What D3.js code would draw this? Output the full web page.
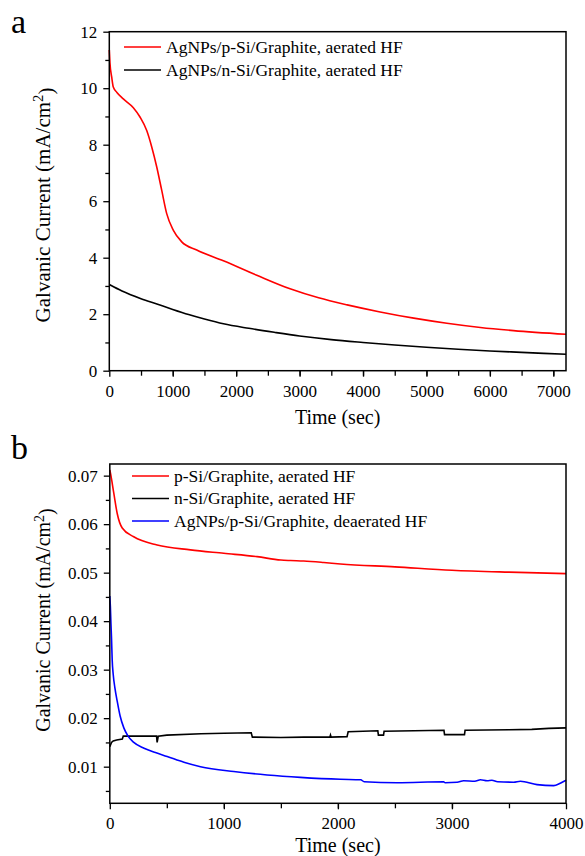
<!DOCTYPE html>
<html>
<head>
<meta charset="utf-8">
<script src="https://cdn.jsdelivr.net/npm/d3@7"></script>
<style>
	body { margin: 0; background: #fff; }
	svg text { font-family: "Liberation Serif", "Times New Roman", serif; fill: #000; }
</style>
</head>
<body>
<div id="chart"></div>
<script>
// panel a : AgNPs/p-Si/Graphite, aerated HF
var timeA_pSi = [0, 10, 38, 63, 120, 221, 379, 484, 590, 669, 748, 826, 905, 1010, 1142, 1379, 1798, 2325, 2850, 3300, 3750, 4270, 4800, 5322, 5850, 6372, 7200];
var curA_pSi = [11.35, 10.9, 10.39, 10.04, 9.85, 9.62, 9.31, 8.98, 8.5, 7.92, 7.21, 6.39, 5.56, 4.97, 4.56, 4.27, 3.89, 3.38, 2.9, 2.58, 2.33, 2.08, 1.86, 1.68, 1.53, 1.42, 1.29];
// panel a : AgNPs/n-Si/Graphite, aerated HF
var timeA_nSi = [0, 200, 500, 750, 1000, 1250, 1500, 1800, 2200, 2600, 3000, 3500, 4000, 4500, 5000, 5500, 6000, 6500, 7200];
var curA_nSi = [3.05, 2.82, 2.55, 2.36, 2.17, 1.99, 1.83, 1.66, 1.5, 1.36, 1.23, 1.1, 1.0, 0.91, 0.83, 0.76, 0.7, 0.65, 0.58];

// panel b : p-Si/Graphite, aerated HF
var timeB_pSi = [0, 6, 35, 65, 109, 210, 415, 707, 999, 1292, 1500, 1584, 1700, 1876, 2022, 2500, 3000, 3500, 4000];
var curB_pSi = [0.0712, 0.0705, 0.0664, 0.0622, 0.0592, 0.0574, 0.0557, 0.0547, 0.054, 0.0533, 0.0526, 0.0525, 0.0524, 0.0521, 0.0518, 0.0512, 0.0505, 0.0501, 0.0498];
// panel b : n-Si/Graphite, aerated HF
var timeB_nSi = [0, 15, 30, 60, 110, 118, 300, 410, 415, 425, 500, 800, 1000, 1240, 1250, 1500, 1700, 1930, 1935, 1940, 2080, 2090, 2350, 2355, 2400, 2405, 2930, 2935, 3110, 3115, 3500, 3700, 3850, 4000];
var curB_nSi = [0.0141, 0.015, 0.0153, 0.0155, 0.0157, 0.0163, 0.0163, 0.0163, 0.015, 0.0163, 0.0165, 0.0168, 0.0169, 0.017, 0.0161, 0.016, 0.0161, 0.0161, 0.0165, 0.0161, 0.0162, 0.0172, 0.0174, 0.0165, 0.0165, 0.0173, 0.0175, 0.0166, 0.0166, 0.0175, 0.0176, 0.0177, 0.0179, 0.018];
// panel b : AgNPs/p-Si/Graphite, deaerated HF
var timeB_Ag = [0, 5, 10, 15, 21, 30, 45, 65, 90, 123, 160, 210, 300, 400, 503, 650, 795, 1087, 1379, 1671, 2022, 2200, 2230, 2519, 2927, 2940, 3045, 3103, 3200, 3250, 3308, 3350, 3400, 3541, 3600, 3746, 3892, 3950, 4000];
var curB_Ag = [0.0452, 0.043, 0.0395, 0.0365, 0.032, 0.029, 0.0262, 0.0235, 0.0205, 0.018, 0.0163, 0.015, 0.0138, 0.0129, 0.0121, 0.0109, 0.01, 0.009, 0.0083, 0.0078, 0.0074, 0.0073, 0.0069, 0.0067, 0.0069, 0.0067, 0.0068, 0.0071, 0.007, 0.0073, 0.0071, 0.0072, 0.0069, 0.0068, 0.007, 0.0063, 0.0061, 0.0066, 0.0072];

// ticks
var xTicksA = [0, 1000, 2000, 3000, 4000, 5000, 6000, 7000];
var yTicksA = [0, 2, 4, 6, 8, 10, 12];
var xTicksB = [0, 1000, 2000, 3000, 4000];
var yTicksB = [0.01, 0.02, 0.03, 0.04, 0.05, 0.06, 0.07];

var legendA = ["AgNPs/p-Si/Graphite, aerated HF", "AgNPs/n-Si/Graphite, aerated HF"];
var legendB = ["p-Si/Graphite, aerated HF", "n-Si/Graphite, aerated HF", "AgNPs/p-Si/Graphite, deaerated HF"];

var width = 585;
var height = 856;

var svg = d3.select("#chart").append("svg")
	.attr("width", width)
	.attr("height", height);

function zip(t, v) {
	return t.map(function(d, i) { return [d, v[i]]; });
}

//draw one panel
function drawPanel(p) {
	var x = d3.scaleLinear().domain(p.xDomain).range([p.left, p.right]);
	var y = d3.scaleLinear().domain(p.yDomain).range([p.bottom, p.top]);

	//minor ticks
	var xMinor = d3.range(p.xDomain[0] + p.xMinorStep, p.xDomain[1], p.xMinorStep);
	var yMinor = d3.range(p.yMinorStart, p.yDomain[1], p.yMinorStep);

	svg.append("g")
		.attr("transform", "translate(0," + p.bottom + ")")
		.call(d3.axisBottom(x).tickValues(xMinor).tickSize(5).tickSizeOuter(0).tickFormat(""))
		.call(function(g) { g.select(".domain").remove(); })
		.selectAll("line").attr("stroke-width", 1.3);

	svg.append("g")
		.attr("transform", "translate(" + p.left + ",0)")
		.call(d3.axisLeft(y).tickValues(yMinor).tickSize(4).tickSizeOuter(0).tickFormat(""))
		.call(function(g) { g.select(".domain").remove(); })
		.selectAll("line").attr("stroke-width", 1.3);

	var xAxis = svg.append("g")
		.attr("transform", "translate(0," + p.bottom + ")")
		.call(d3.axisBottom(x).tickValues(p.xTicks).tickSize(6).tickSizeOuter(0).tickPadding(8).tickFormat(d3.format("d")))
		.attr("font-family", "Liberation Serif");
	xAxis.select(".domain").remove();
	xAxis.selectAll("line").attr("stroke-width", 1.3);
	xAxis.selectAll("text").style("font-size", "17px");

	var yAxis = svg.append("g")
		.attr("transform", "translate(" + p.left + ",0)")
		.call(d3.axisLeft(y).tickValues(p.yTicks).tickSize(6).tickSizeOuter(0).tickPadding(6).tickFormat(p.yFormat))
		.attr("font-family", "Liberation Serif");
	yAxis.select(".domain").remove();
	yAxis.selectAll("line").attr("stroke-width", 1.3);
	yAxis.selectAll("text").style("font-size", "17px");

	//data lines
	p.series.forEach(function(s) {
		var line = d3.line()
			.x(function(d) { return x(d[0]); })
			.y(function(d) { return y(d[1]); })
			.curve(s.curve);
		svg.append("path")
			.datum(zip(s.t, s.v))
			.attr("fill", "none")
			.attr("stroke", s.color)
			.attr("stroke-width", 1.6)
			.attr("d", line);
	});

	//frame
	svg.append("rect")
		.attr("x", p.left)
		.attr("y", p.top)
		.attr("width", p.right - p.left)
		.attr("height", p.bottom - p.top)
		.attr("fill", "none")
		.attr("stroke", "#000")
		.attr("stroke-width", 1.5);

	//legend
	p.series.forEach(function(s, i) {
		var ly = p.legendY + i * p.legendGap;
		svg.append("line")
			.attr("x1", p.legendX)
			.attr("x2", p.legendX + 37)
			.attr("y1", ly)
			.attr("y2", ly)
			.attr("stroke", s.color)
			.attr("stroke-width", 1.6);
		svg.append("text")
			.attr("x", p.legendX + 42)
			.attr("y", ly)
			.attr("dy", "0.33em")
			.style("font-size", "17.5px")
			.text(p.legend[i]);
	});

	//axis titles
	svg.append("text")
		.attr("x", (p.left + p.right) / 2)
		.attr("y", p.xTitleY)
		.attr("text-anchor", "middle")
		.style("font-size", "20px")
		.text("Time (sec)");

	var yt = svg.append("text")
		.attr("transform", "translate(" + p.yTitleX + "," + p.yTitleY + ") rotate(-90)")
		.attr("text-anchor", "middle")
		.style("font-size", p.yTitleSize + "px");
	yt.append("tspan").text("Galvanic Current (mA/cm");
	yt.append("tspan").attr("dy", "-0.45em").style("font-size", "0.7em").text("2");
	yt.append("tspan").attr("dy", "0.45em").text(")");

	//panel letter
	svg.append("text")
		.attr("x", 11)
		.attr("y", p.letterY)
		.style("font-size", "34px")
		.text(p.letter);
}

drawPanel({
	letter: "a", letterY: 33,
	left: 109.3, right: 566, top: 31.7, bottom: 370.7,
	xDomain: [0, 7200], yDomain: [0, 12],
	xTicks: xTicksA, yTicks: yTicksA, yFormat: d3.format("d"),
	xMinorStep: 500, yMinorStart: 1, yMinorStep: 2,
	series: [
		{ t: timeA_pSi, v: curA_pSi, color: "#ff0000", curve: d3.curveMonotoneX },
		{ t: timeA_nSi, v: curA_nSi, color: "#000000", curve: d3.curveMonotoneX }
	],
	legend: legendA, legendX: 124, legendY: 47, legendGap: 23,
	xTitleY: 424, yTitleX: 50, yTitleY: 205, yTitleSize: 21
});

drawPanel({
	letter: "b", letterY: 459,
	left: 109.8, right: 566, top: 464, bottom: 803.3,
	xDomain: [0, 4000], yDomain: [0.00245, 0.0724],
	xTicks: xTicksB, yTicks: yTicksB, yFormat: d3.format(".2f"),
	xMinorStep: 500, yMinorStart: 0.005, yMinorStep: 0.01,
	series: [
		{ t: timeB_pSi, v: curB_pSi, color: "#ff0000", curve: d3.curveMonotoneX },
		{ t: timeB_nSi, v: curB_nSi, color: "#000000", curve: d3.curveLinear },
		{ t: timeB_Ag, v: curB_Ag, color: "#0000ff", curve: d3.curveMonotoneX }
	],
	legend: legendB, legendX: 132, legendY: 476, legendGap: 22.5,
	xTitleY: 852, yTitleX: 50, yTitleY: 620, yTitleSize: 20
});
</script>
</body>
</html>
